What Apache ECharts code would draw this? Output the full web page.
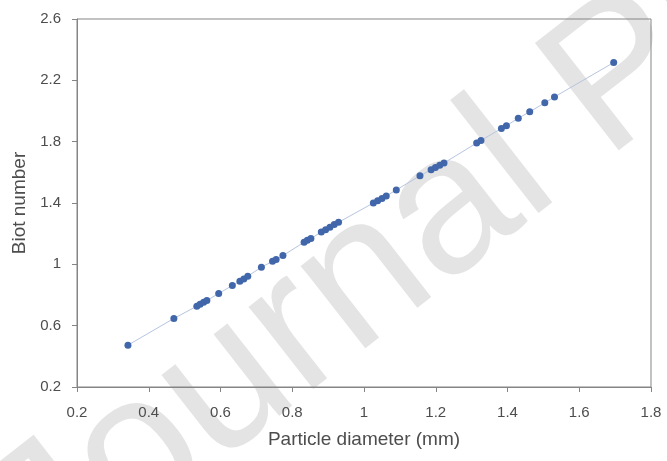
<!DOCTYPE html>
<html>
<head>
<meta charset="utf-8">
<script src="https://cdn.jsdelivr.net/npm/echarts@6/dist/echarts.min.js"></script>
<style>
  html, body { margin: 0; padding: 0; background: #ffffff; }
  #chart { width: 667px; height: 461px; }
</style>
</head>
<body>
<div id="chart"></div>
<script>
// Particle diameter (mm) for each sample
const diameter = [0.342, 0.470, 0.534, 0.543, 0.553, 0.562, 0.595, 0.633, 0.654, 0.665,
  0.676, 0.714, 0.745, 0.755, 0.774, 0.833, 0.842, 0.852, 0.881, 0.893,
  0.905, 0.917, 0.929, 1.026, 1.038, 1.050, 1.062, 1.090, 1.156, 1.187,
  1.199, 1.211, 1.223, 1.314, 1.326, 1.383, 1.397, 1.430, 1.462, 1.504,
  1.531, 1.696];
// Biot number for each sample
const biot = [0.473, 0.647, 0.727, 0.740, 0.753, 0.764, 0.810, 0.862, 0.890, 0.905,
  0.923, 0.981, 1.020, 1.031, 1.057, 1.144, 1.157, 1.168, 1.211, 1.226,
  1.242, 1.259, 1.274, 1.400, 1.415, 1.430, 1.446, 1.485, 1.578, 1.617,
  1.632, 1.647, 1.661, 1.791, 1.808, 1.886, 1.904, 1.953, 1.995, 2.053,
  2.092, 2.316];

const xTicks = [0.2, 0.4, 0.6, 0.8, 1.0, 1.2, 1.4, 1.6, 1.8];
const yTicks = [0.2, 0.6, 1.0, 1.4, 1.8, 2.2, 2.6];

const points = diameter.map((d, i) => [d, biot[i]]);

const axisGray = '#858585';
const labelColor = '#4d4d4d';
const fontFam = '"Liberation Sans", Arial, sans-serif';

const chart = echarts.init(document.getElementById('chart'), null, { renderer: 'canvas' });

chart.setOption({
  animation: false,
  backgroundColor: '#ffffff',
  graphic: [{
    type: 'text',
    x: 620,
    y: 80,
    z: -10,
    silent: true,
    rotation: 38 * Math.PI / 180,
    style: {
      text: 'Journal Pre-proof',
      font: '198px ' + fontFam,
      fill: '#e4e4e4',
      align: 'center',
      verticalAlign: 'middle',
      textAlign: 'center',
      textVerticalAlign: 'middle'
    }
  }],
  grid: {
    left: 77, top: 19, right: 16, bottom: 74,
    show: true,
    borderColor: axisGray,
    borderWidth: 1,
    backgroundColor: 'transparent'
  },
  xAxis: {
    type: 'value',
    min: xTicks[0], max: xTicks[xTicks.length - 1], interval: 0.2,
    name: 'Particle diameter (mm)',
    nameLocation: 'middle',
    nameGap: 43,
    nameTextStyle: { color: labelColor, fontSize: 19, fontFamily: fontFam },
    axisLine: { show: true, lineStyle: { color: axisGray, width: 1 } },
    axisTick: { show: true, inside: false, length: 5, lineStyle: { color: axisGray } },
    splitLine: { show: false },
    axisLabel: {
      color: labelColor, fontSize: 15, fontFamily: fontFam, margin: 18,
      formatter: v => String(Math.round(v * 10) / 10)
    }
  },
  yAxis: {
    type: 'value',
    min: yTicks[0], max: yTicks[yTicks.length - 1], interval: 0.4,
    name: 'Biot number',
    nameLocation: 'middle',
    nameGap: 48,
    nameTextStyle: { color: labelColor, fontSize: 19, fontFamily: fontFam },
    axisLine: { show: true, lineStyle: { color: axisGray, width: 1 } },
    axisTick: { show: true, inside: false, length: 5, lineStyle: { color: axisGray } },
    splitLine: { show: false },
    axisLabel: {
      color: labelColor, fontSize: 15, fontFamily: fontFam, margin: 16,
      formatter: v => String(Math.round(v * 10) / 10)
    }
  },
  series: [{
    type: 'line',
    data: points,
    symbol: 'circle',
    symbolSize: 7,
    z: 5,
    lineStyle: { color: '#b6c5e0', width: 1 },
    itemStyle: { color: '#4166aa', borderWidth: 0 }
  }]
});
</script>
</body>
</html>
